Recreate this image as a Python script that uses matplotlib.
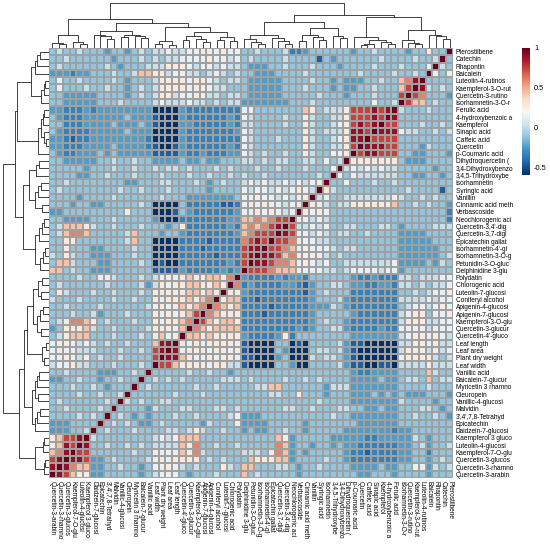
import matplotlib
matplotlib.use("Agg")
import matplotlib.pyplot as plt
import numpy as np

plt.rcParams['font.family'] = ['Liberation Sans', 'DejaVu Sans']

# variable names as printed (cut at 18 chars), top to bottom
labels = ["Pterostilbene", "Catechin", "Rhapontin", "Baicalein", "Luteolin-4-rutinos",
          "Kaempferol-3-O-rut", "Quercetin-3-rutino", "Isorhamnetin-3-O-r", "Ferulic acid",
          "4-hydroxybenzoic a", "Kaempferol", "Sinapic acid", "Caffeic acid", "Quercetin",
          "p-Coumaric acid", "Dihydroquercetin (", "3,4-Dihydroxybenzo", "3,4,5-Trihydroxybe",
          "Isorhamnetin", "Syringic acid", "Vanillin", "Cinnamic acid meth", "Verbascoside",
          "Neochlorogenic aci", "Quercetin-3,4'-dig", "Quercetin-3,7-digl", "Epicatechin gallat",
          "Isorhamnetin-4'-gl", "Isorhamnetin-3-O-g", "Petunidin-3-O-gluc", "Delphinidine 3-glu",
          "Polydatin", "Chlorogenic acid", "Luteolin-7-glucosi", "Coniferyl alcohol",
          "Apigenin-4-glucosi", "Apigenin-7-glucosi", "Kaempferol-3-O-glu", "Quercetin-3-glucur",
          "Quercetin-4'-gluco", "Leaf length", "Leaf area", "Plant dry weight", "Leaf width",
          "Vanillic acid", "Baicalein-7-glucur", "Myricetin 3 rhamno", "Oleuropein",
          "Vanillic-4-glucosi", "Malvidin", "3',4',7,8-Tetrahyd", "Epicatechin",
          "Daidzein-7-glucosi", "Kaempferol 3 gluco", "Luteolin-4-glucosi", "Kaempferol-7-O-glu",
          "Quercetin-3-glucos", "Quercetin-3-rhamno", "Quercetin-3-arabin"]

# colour levels -> correlation values
levels = {'N': -0.59, 'B': -0.45, 'b': -0.34, 'm': -0.24, 'l': -0.11, 'v': 0.02,
          'w': 0.14, 'p': 0.28, 's': 0.44, 'r': 0.60, 'R': 0.75, 'D': 0.90}

# row r, partners from the bottom row upwards (left part of the anti-diagonal)
tri = [
    "lvllvl" "llmllmlvl" "vvwv" "vwwpwwpww" "llvlllvb" "bmlll" "lll" "mllvlll" "lmll" "pll",
    "llvlll" "lllmlllvl" "vlvv" "wwwwpwwvw" "lvllllvl" "lllBl" "mll" "llllvll" "llvl" "lv",
    "lvllll" "llvlmlllv" "vvpp" "pwvwwvwvv" "lmmmllvl" "llvll" "lml" "lllvlll" "vlll" "w",
    "mmmbmm" "lllvllvss" "ppvw" "wvvlvwvlv" "llmmmlll" "lvlll" "lll" "lvllllv" "llvl",
    "lwllvl" "lllvlmlll" "vppp" "pwppwvlvv" "lmmmmmll" "llvll" "mlm" "mmllvll" "srD",
    "lwlllv" "llvllmlvl" "vppp" "pwppwvvll" "lmmmmmll" "lvlll" "mlm" "mllvlll" "sR",
    "llmmmm" "mllllmlvl" "vppv" "wwpwvvlvv" "lmmmmmll" "lllvl" "llm" "lllvlll" "R",
    "llmmmm" "mlllvllll" "vwvv" "vwvvlvlvv" "mmmmmmml" "llvll" "lll" "lllwllv",
    "mmbbbm" "bmmmmmmmm" "NNNN" "mbbbbbbbb" "wwllllll" "lsplv" "vvp" "RRRDRD",
    "lmbbbm" "mmmmmlmmm" "BNNN" "mbbbbbbmb" "wvllllvl" "lpvll" "vvp" "RRRDR",
    "llbbbm" "mmmlmmmlm" "BNNN" "mmbbbbbmb" "vvllllvl" "lpvll" "vwp" "RDRD",
    "lmbbbb" "mmmmmlmmm" "NNNN" "mbbbbbbbm" "wvllllll" "lpvlv" "vvp" "DDR",
    "mmbBbb" "mmmmmmmmb" "NNNN" "mbbbbbbbb" "wvlllvll" "lpvll" "vwp" "DD",
    "mmbbbm" "mmmlmmmmb" "BNNB" "mbbbbbbmb" "wvllllll" "lpvll" "vvp" "R",
    "lmbbmm" "mlmlmmmmm" "BBBB" "mbbmbbbmm" "wvlvllvl" "lpvll" "wwp",
    "llmmmm" "mllvllvll" "mmmm" "lmmlmmlll" "vvlvlvvl" "lvvlw" "lv",
    "lllllm" "lllvllvll" "vlvv" "lvlllvlvl" "llvllvll" "lvlll" "w",
    "llllmm" "llvlllvll" "lvll" "lvllvllvl" "vllvllll" "lllvl",
    "llvlll" "lllllmmll" "lvvl" "llvlmlvll" "vwvwvvwv" "wvwp",
    "lvllll" "llllvllvl" "llvl" "llllmllll" "wvwwvwvw" "pwv",
    "llllml" "lllvlllll" "lvll" "lmmmmmmml" "wwpwwvwv" "wp",
    "lllmll" "mmlllllvl" "NNNN" "lbbbbbBBb" "wpwpwwvw" "p",
    "mmllll" "lllllplll" "NNNB" "lmbbbbbbm" "wwpwpwvw",
    "llmmmm" "lllvlllll" "mNNN" "bbbbbbbmm" "ssrsrRR",
    "lvsssp" "vllvlllvl" "llml" "pbbbbbbmb" "srsrRD",
    "lvsrrs" "lllllvsll" "lmll" "mbbbbbbbm" "srRRR",
    "llppll" "lllllvsll" "NNNN" "bbbbBbbbb" "rRDR",
    "llplll" "mmllllvll" "NNNN" "bbbBbbbbb" "RDD",
    "vlpvll" "mmmlllvll" "NNNN" "bbbbbBbbb" "RD",
    "lssvll" "lmmllllvl" "NBNN" "bbbbbbbmb" "R",
    "sslvll" "mmmllllll" "BBBB" "mbbbbbmbm",
    "llllvl" "lwwvlllvl" "vwpw" "psppsspr",
    "lvllll" "llvllllvm" "vpwp" "pssppsp",
    "lpvlll" "vllvlllvl" "pppp" "psspsp",
    "vlllvl" "lllvllvll" "pwpp" "pspsr",
    "llvlll" "lvllllllv" "wpwp" "spsr",
    "lllvll" "vmlllvlll" "pwpw" "psR",
    "lvprrs" "plvlllvll" "pwpp" "sr",
    "mlppps" "vllvllllv" "pppw" "s",
    "lvpsss" "lllvlllvl" "pswp",
    "wwpwvw" "vlvllvlll" "sDD",
    "wpwwvv" "vlllvllvl" "RD",
    "wwpwvw" "lvllvllll" "R",
    "vwwpvv" "lllvlllvl",
    "llvlll" "lmmmllvl",
    "mmllvl" "lmllvll",
    "lllvll" "vlmlll",
    "llllvl" "lvllv",
    "lvllll" "llvl",
    "llvlll" "lvl",
    "llllvl" "vl",
    "mmmlll" "l",
    "mmmllv",
    "psRRD",
    "psDR",
    "srD",
    "RD",
    "D",
]

# dendrogram over the rows: (left, right, height), leaves are row numbers
grp_a = (((0, 1, .20), 2, .26), 3, .30)
grp_b = (((4, 5, .08), 6, .12), 7, .18)
grp_c = ((((8, 9, .10), 10, .14), (11, (12, 13, .06), .10), .18), 14, .24)
grp_d = ((15, 16, .22), 17, .28)
grp_e = (((18, 19, .18), 20, .24), (21, 22, .16), .30)
grp_f = ((((23, 24, .10), 25, .16), 26, .22), (((27, 28, .08), 29, .14), 30, .20), .30)
grp_g = (((31, 32, .16), (33, 34, .18), .24), (((35, 36, .14), 37, .20), (38, 39, .18), .26), .36)
grp_h = ((40, 41, .06), (42, 43, .10), .16)
grp_i = ((((44, 45, .22), 46, .26), (47, 48, .24), .30), (((49, 50, .20), 51, .26), 52, .30), .38)
grp_j = (((53, 54, .10), 55, .14), ((56, 57, .08), 58, .12), .30)

top_half = (((grp_a, grp_b, .40), grp_c, .70), ((grp_d, grp_e, .45), grp_f, .58), .75)
low_half = (((grp_g, grp_h, .48), grp_i, .55), grp_j, .65)
tree = (top_half, low_half, 1.0)

n = len(labels)
corr = np.eye(n)
for r, s in enumerate(tri):
    assert len(s) == n - 1 - r, (r, len(s))
    for c, ch in enumerate(s):
        k = n - 1 - c
        corr[r, k] = corr[k, r] = levels[ch]
shown = corr[:, ::-1]

fig = plt.figure(figsize=(5.5, 5.46), dpi=100)
W, H = 550, 546


def box(x0, y0, x1, y1):
    return [x0 / W, 1 - y1 / H, (x1 - x0) / W, (y1 - y0) / H]


ax = fig.add_axes(box(49, 48, 453, 478))
mesh = ax.pcolormesh(shown, cmap='RdBu_r', vmin=corr.min(), vmax=1,
                     edgecolors='#a0a0a0', linewidth=0.3)
ax.set_xlim(0, n)
ax.set_ylim(n, 0)
for sp in ax.spines.values():
    sp.set_visible(False)
ax.yaxis.tick_right()
ax.set_yticks(np.arange(n) + 0.5)
ax.set_yticklabels(labels, fontsize=4.7)
ax.set_xticks(np.arange(n) + 0.5)
ax.set_xticklabels(labels[::-1], fontsize=4.7, rotation=270, va='top', ha='center')
ax.tick_params(length=0, pad=2)


def draw(node, axd, pos, vertical):
    if isinstance(node, int):
        return pos(node), 0.0
    left, right, h = node
    p1, h1 = draw(left, axd, pos, vertical)
    p2, h2 = draw(right, axd, pos, vertical)
    a = [p1, p1, p2, p2]
    b = [h1, h, h, h2]
    if vertical:
        axd.plot(b, a, color='#222222', lw=0.6, solid_capstyle='butt')
    else:
        axd.plot(a, b, color='#222222', lw=0.6, solid_capstyle='butt')
    return (p1 + p2) / 2, h


axr = fig.add_axes(box(3, 48, 49, 478))
draw(tree, axr, lambda r: r + 0.5, True)
axr.set_ylim(n, 0)
axr.set_xlim(1.01, 0)
axr.axis('off')

axc = fig.add_axes(box(49, 3, 453, 48))
draw(tree, axc, lambda r: n - 1 - r + 0.5, False)
axc.set_xlim(0, n)
axc.set_ylim(0, 1.01)
axc.axis('off')

cax = fig.add_axes(box(522, 48, 530, 175))
cb = fig.colorbar(mesh, cax=cax)
cb.outline.set_visible(False)
cb.set_ticks([-0.5, 0, 0.5, 1])
cb.set_ticklabels(['-0.5', '0', '0.5', '1'])
cax.tick_params(length=0, labelsize=5.3, pad=3)

fig.savefig('out.png', dpi=100)
